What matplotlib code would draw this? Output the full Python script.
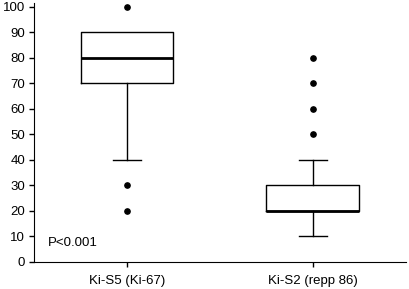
import matplotlib
matplotlib.use('Agg')
from matplotlib import pyplot as plt

labels = ['Ki-S5 (Ki-67)', 'Ki-S2 (repp 86)']
q1 = [70, 20]
med = [80, 20]
q3 = [90, 30]
whislo = [40, 10]
whishi = [90, 40]
fliers = [[100, 30, 20], [50, 60, 70, 80]]

plt.rcParams['font.family'] = ['Liberation Sans', 'DejaVu Sans']

stats = []
for i in range(len(labels)):
    stats.append(dict(label=labels[i], q1=q1[i], med=med[i], q3=q3[i],
                      whislo=whislo[i], whishi=whishi[i], fliers=fliers[i]))

fig = plt.figure(figsize=(4.1, 2.89), dpi=100)
ax = fig.add_axes([0.083, 0.095, 0.907, 0.895])

parts = ax.bxp(stats, positions=[1, 2], widths=0.5, capwidths=0.155,
               boxprops=dict(color='black', lw=1.0),
               medianprops=dict(color='black', lw=2.0),
               whiskerprops=dict(color='black', lw=1.0),
               capprops=dict(color='black', lw=1.0),
               flierprops=dict(marker='o', markerfacecolor='black',
                               markeredgecolor='black', markersize=3.8))
# first box has no upper whisker, so drop its cap (it sits on the box edge)
parts['caps'][1].set_visible(False)

ax.set_xlim(0.5, 2.5)
ax.set_ylim(0, 101.5)
ax.set_yticks(range(0, 101, 10))
ax.spines['top'].set_visible(False)
ax.spines['right'].set_visible(False)
ax.tick_params(direction='out', length=3.5, width=1, labelsize=9.5, pad=3)
ax.tick_params(axis='x', pad=6)

ax.text(0.575, 7.2, 'P<0.001', fontsize=9.5, va='center', ha='left')

fig.savefig('out.png', dpi=100)
